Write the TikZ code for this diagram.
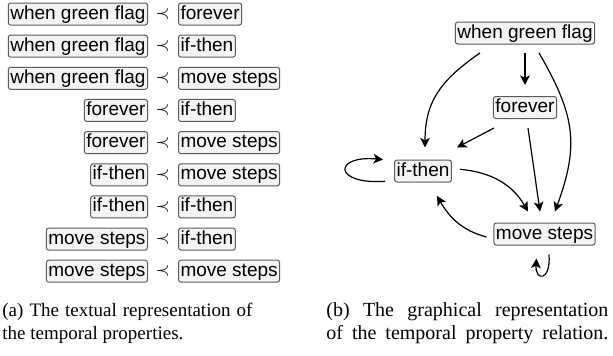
\documentclass[tikz,border=0pt]{standalone}
\usepackage{fontspec}
\setmainfont{Liberation Serif}
\setsansfont{Liberation Sans}
\usetikzlibrary{arrows.meta}
\definecolor{boxfill}{HTML}{F4F4F4}
\definecolor{boxline}{HTML}{5A5A5A}
\begin{document}
\begin{tikzpicture}[x=0.5pt,y=0.5pt,
  blk/.style={draw=boxline, fill=boxfill, line width=0.5pt, rounded corners=1.2pt,
    inner xsep=1pt, inner ysep=1pt, text height=7pt, text depth=2pt,
    font=\sffamily\fontsize{9.5}{11}\selectfont},
  precsym/.style={inner sep=0pt, font=\fontsize{9.5}{11}\selectfont},
  arr/.style={-{Stealth[length=4.8pt,width=4.8pt,inset=1.2pt]}, line width=0.6pt},
  captxt/.style={inner sep=0pt, anchor=base west, font=\fontsize{9.5}{11.5}\selectfont},
  captxtb/.style={inner sep=0pt, anchor=base west, font=\fontsize{10}{11.5}\selectfont}]
\useasboundingbox (0,0) rectangle (613,-355);
% textual representation
\foreach \i/\a/\b in {1/when green flag/forever,
                      2/when green flag/if-then,
                      3/when green flag/move steps,
                      4/forever/if-then,
                      5/forever/move steps,
                      6/if-then/move steps,
                      7/if-then/if-then,
                      8/move steps/if-then,
                      9/move steps/move steps}{
  \pgfmathsetmacro\yy{-(14+(\i-1)*32.15)}
  \node[blk, anchor=east] (l\i) at (148,\yy) {\a};
  \node[precsym] (p\i) at (162.5,\yy) {$\prec$};
  \node[blk, anchor=west] (r\i) at (178,\yy) {\b};
}
% graph
\node[blk] (wgf) at (525,-33) {when green flag};
\node[blk] (fe) at (525,-107.5) {forever};
\node[blk] (it) at (423,-171) {if-then};
\node[blk] (ms) at (544.5,-234) {move steps};

\draw[arr] ([shift={(0,-8.4)}]wgf.south) -- ([shift={(0,11)}]fe.north);
\draw[arr] ([shift={(-45,-8.4)}]wgf.south) to[out=215,in=90,looseness=1.1] ([shift={(2,12)}]it.north);
\draw[arr] ([shift={(1,-9)}]fe.south west) -- ([shift={(5,12)}]it.north east);
\draw[arr] ([shift={(3,-9)}]fe.south) -- ([shift={(-4.5,11)}]ms.north);
\draw[arr] ([shift={(14,-8.4)}]wgf.south) to[out=-60,in=70,looseness=1.15] ([shift={(10.5,11)}]ms.north);
\draw[arr] ([shift={(8,1.7)}]it.east) to[out=-5,in=120] ([shift={(-16.5,11)}]ms.north);
\draw[arr] ([shift={(-7,-3)}]ms.west) to[out=165,in=-60] ([shift={(14,-13.4)}]it.south);
\draw[arr] ([shift={(-9,1.2)}]it.south west) .. controls +(-52,-3.5) and +(-50,4.3) .. ([shift={(-11,0)}]it.north west);
\draw[arr] ([shift={(4.5,-9)}]ms.south) .. controls +(2,-27) and +(-1.5,-23) .. ([shift={(-8,-13)}]ms.south);

% captions
\node[captxt] (ca1) at (2,-316.7) {\makebox[125pt][s]{(a) The textual representation of}};
\node[captxt] (ca2) at (2,-339.5) {the temporal properties.};
\node[captxtb] (cb1) at (326,-316.7) {\makebox[141pt][s]{(b) The graphical representation}};
\node[captxtb] (cb2) at (326,-339.5) {\makebox[141pt][s]{of the temporal property relation.}};
\end{tikzpicture}
\end{document}
